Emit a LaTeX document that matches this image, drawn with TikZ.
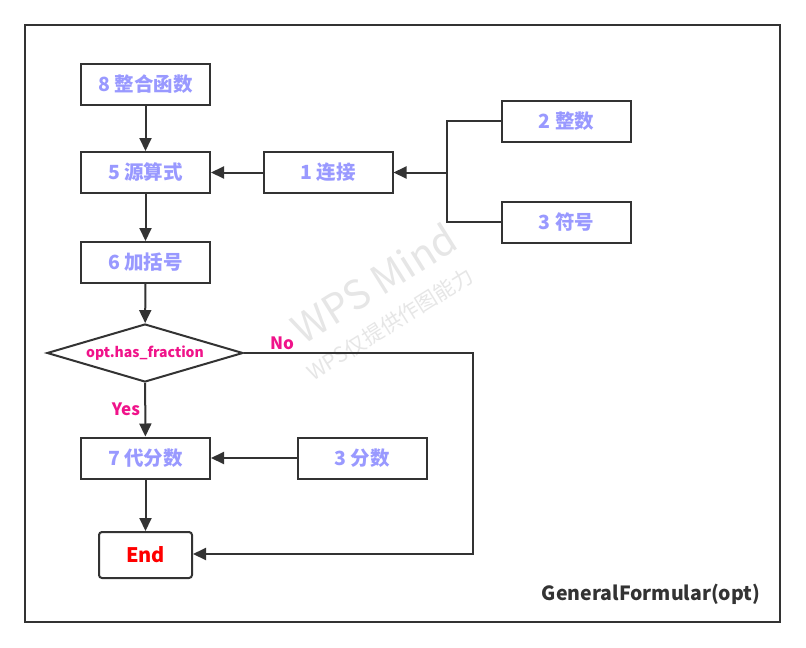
\documentclass[tikz,border=0pt]{standalone}
\usepackage{fontspec}
\setmainfont{Noto Sans CJK SC}
\usetikzlibrary{arrows.meta,shapes.geometric}
\definecolor{boxtxt}{HTML}{9999FF}
\definecolor{edge}{HTML}{333333}
\definecolor{mag}{HTML}{F0138A}
\definecolor{wm}{HTML}{E6E6E6}
\begin{document}
\begin{tikzpicture}[x=1pt,y=-1pt,
  box/.style={draw=edge,line width=2pt,fill=white,minimum width=129pt,minimum height=41pt,inner sep=0pt,text=boxtxt,font=\fontsize{19.5}{21}\selectfont\bfseries},
  conn/.style={draw=edge,line width=2pt},
  arr/.style={conn,-{Triangle[length=13pt,width=12pt]}},
  lbl/.style={text=mag,font=\fontsize{17}{19}\selectfont\bfseries}]
\useasboundingbox (0,0) rectangle (806,648);
\fill[white] (0,0) rectangle (806,648);
% watermark
\node[rotate=32,text=wm,font=\fontsize{40}{44}\selectfont] (wm1) at (374,283) {WPS Mind};
\node[rotate=32,text=wm,font=\fontsize{21}{24}\selectfont] (wm2) at (390,324) {WPS仅提供作图能力};
% frame
\draw[edge,line width=2pt] (25,25) rectangle (780,622);
% nodes
\node[box] (n8) at (145.5,84) {8 整合函数};
\node[box] (n5) at (145.5,172.5) {5 源算式};
\node[box] (n1) at (328,172.5) {1 连接};
\node[box] (n2) at (566.5,121) {2 整数};
\node[box] (n3) at (566.5,222) {3 符号};
\node[box] (n6) at (145.5,262.5) {6 加括号};
\node[diamond,aspect=3.38,draw=edge,line width=2pt,fill=white,minimum width=196pt,minimum height=58pt,inner sep=0pt,text=mag,font=\fontsize{14}{16}\selectfont\bfseries] (d) at (145,353) {opt.has\_fraction};
\node[box] (n7) at (145.5,458) {7 代分数};
\node[box] (n3b) at (362,458) {3 分数};
\node[draw=edge,line width=2pt,rounded corners=3pt,fill=white,minimum width=93pt,minimum height=46pt,inner sep=0pt,text=red,font=\fontsize{20}{22}\selectfont\bfseries] (end) at (145.5,555) {End};
\node[text=edge,font=\fontsize{19.5}{21}\selectfont\bfseries] (title) at (651,594) {GeneralFormular(opt)};
% connectors
\draw[arr] (n8) -- (n5);
\draw[arr] (n5) -- (n6);
\draw[arr] (n6) -- (d);
\draw[arr] (n1) -- (n5);
\coordinate (br) at (447,172.5);
\draw[conn] (n2.west) -| (br);
\draw[conn] (n3.west) -| (br);
\draw[arr] (br) -- (n1);
\draw[arr] (d) -- (n7) node[lbl,pos=0.5,left=1pt] {Yes};
\draw[arr] (n3b) -- (n7);
\draw[arr] (n7) -- (end);
\coordinate (c1) at (473,353);
\coordinate (c2) at (473,554);
\draw[arr] (d.east) -- (c1) -- (c2) -- (end.east |- c2);
\node[lbl] (no) at (282,343) {No};
\end{tikzpicture}
\end{document}
